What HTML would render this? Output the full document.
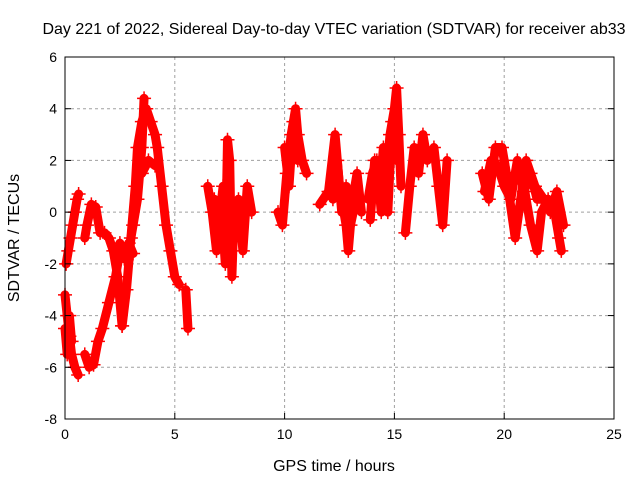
<!DOCTYPE html>
<html><head><meta charset="utf-8"><style>
body{margin:0;background:#fff}
svg text{font-family:"Liberation Sans",sans-serif;fill:#000}
</style></head><body>
<svg id="chart" width="640" height="480" viewBox="0 0 640 480" xmlns="http://www.w3.org/2000/svg">
<rect width="640" height="480" fill="#fff"/>
<text x="334" y="34" font-size="16" text-anchor="middle">Day 221 of 2022, Sidereal Day-to-day VTEC variation (SDTVAR) for receiver ab33</text>
<g id="grid"></g><g id="marks"></g><g id="axes"></g>
<text x="334" y="471" font-size="16" text-anchor="middle">GPS time / hours</text>
<text transform="translate(19,238) rotate(-90)" font-size="16" text-anchor="middle">SDTVAR / TECUs</text>
</svg>
<script>
const xTicks=[0,5,10,15,20,25];
const yTicks=[-8,-6,-4,-2,0,2,4,6];
const trackTimes=[
[0,0.1,0.2,0.3,0.45,0.6],
[0.05,0.15,0.25,0.35,0.45,0.55,0.62],
[0.9,1.1,1.3,1.5,1.7,2.0,2.3,2.5,2.7,2.9,3.1,3.3,3.5,3.6],
[0.9,1.0,1.2,1.4,1.6,1.8,2.0,2.2,2.4,2.6],
[2.6,2.8,3.0,3.2,3.3,3.5,3.7,3.9,4.1,4.2,4.4,4.6,4.8,5.0,5.2],
[3.5,3.8,4.1],
[5.5,5.6],
[6.5,6.7,6.9,7.1,7.3,7.4,7.5,7.6,7.7,7.9,8.1,8.3,8.5],
[9.7,9.9,10.1,10.3,10.5,10.6,10.8,11.0],
[11.6,12.0,12.3,12.5,12.8,12.9,13.1,13.3,13.5],
[13.8,14.0,14.2,14.4,14.6,14.8,15.0,15.1,15.2,15.3],
[15.5,15.7,15.9,16.1,16.3,16.5],
[16.8,17.0,17.2,17.4],
[19.0,19.3,19.6,19.9,20.2,20.5,20.8,21.0,21.2,21.5,21.7,22.0,22.3,22.5,22.6],
[20.0,20.5,21.0,21.4,21.8,22.2,22.6],
[13.9,14.1,14.3,14.5,14.7,14.9,15.1],
[19.1,19.4,19.7,20.0,20.3,20.6,20.9,21.2,21.5,21.8,22.1,22.4,22.7],
[12.2,12.4,12.6,12.8,13.0,13.2],
[10.0,10.2,10.4,10.6],
[6.8,7.0,7.2,7.6,7.8,8.0],
[0.0,0.1,0.2,0.3],
[2.5,2.7,2.9,3.1]
];
const trackValues=[
[-3.2,-4,-4.8,-5.5,-6,-6.3],
[-2,-1.5,-1,-0.5,0,0.5,0.7],
[-5.5,-6,-5.9,-5,-4.5,-3.5,-2.5,-1.5,-1.5,-1.5,-0.5,0.5,2.5,4.4],
[-1,-0.5,0.3,0.2,-0.8,-0.8,-1,-1.5,-2.5,-4.4],
[-4.4,-3,-1,1,2.5,3.5,4,3.5,3,2.5,1,-0.5,-1.5,-2.5,-2.8],
[1.5,2,1.8],
[-3,-4.5],
[1,0,-1.5,0.5,-2,2.8,2,-2.5,0,0.5,-1.5,1,0],
[0,-0.5,1.5,3,4,3,2,1.5],
[0.3,0.8,3,1,-0.5,-1.5,0.5,1.5,0],
[0.5,1.5,2,0,1,3,4,4.8,3,1],
[-0.8,1,2.5,1.5,3,2],
[2.5,1,-0.5,2],
[1.5,0.5,2.5,2.5,1,1.5,1.5,0.5,-0.5,-1.5,0,0.5,0,-1,-1.5],
[2,-1,2,1,0.5,0.3,-0.5],
[-0.3,2,0.5,2.5,0,3.5,2],
[0.8,2,1.8,1,0.5,2,0.8,1.5,0.5,0.5,0,0.8,-0.5],
[0.5,2,0,1,-0.5,0.3],
[2.5,1,3.5,2],
[0.5,-0.5,1,-0.5,0,-1],
[-4.5,-5.5,-4,-5],
[-1.2,-1.8,-1.2,-1.6]
];
const L=65,R=614,T=57,B=419;
const xs=t=>L+(t-0)/25*(R-L);
const ys=v=>B-(v+8)/14*(B-T);
const NS="http://www.w3.org/2000/svg";
const grid=document.getElementById('grid'),axes=document.getElementById('axes'),marks=document.getElementById('marks');
function mk(tag,a,p){const e=document.createElementNS(NS,tag);for(const k in a)e.setAttribute(k,a[k]);p.appendChild(e);return e;}
xTicks.forEach(t=>{const x=xs(t);
 if(t>0&&t<25){const g=mk('line',{x1:x,x2:x,y1:T,y2:B,stroke:'#a0a0a0','stroke-dasharray':'3,3'},grid);
 
 }
 mk('line',{x1:x,x2:x,y1:B,y2:B-6,stroke:'#000'},axes);
 const tx=mk('text',{x:x,y:B+20,'font-size':14,'text-anchor':'middle'},axes);tx.textContent=t;
 
 
});
yTicks.forEach(v=>{const y=ys(v);
 if(v>-8&&v<6){const g=mk('line',{x1:L,x2:R,y1:y,y2:y,stroke:'#a0a0a0','stroke-dasharray':'3,3'},grid);
 
 }
 mk('line',{x1:L,x2:L+6,y1:y,y2:y,stroke:'#000'},axes);
 mk('line',{x1:R,x2:R-6,y1:y,y2:y,stroke:'#000'},axes);
 const tx=mk('text',{x:L-8,y:y+5,'font-size':14,'text-anchor':'end'},axes);tx.textContent=v;
 
 
});
const fr=mk('rect',{x:L,y:T,width:R-L,height:B-T,fill:'none',stroke:'#000'},axes);


trackTimes.forEach((ts,i)=>{
 const vs=trackValues[i];
 const pts=ts.map((t,j)=>xs(t)+','+ys(vs[j])).join(' ');
 const pl=mk('polyline',{points:pts,fill:'none',stroke:'#ff0000','stroke-width':9,'stroke-linejoin':'round','stroke-linecap':'round'},marks);
 
 
 ts.forEach((t,j)=>{const x=xs(t),y=ys(vs[j]);
  const p=mk('path',{d:`M${x-7},${y}h14M${x},${y-7}v14`,stroke:'#ff0000','stroke-width':1.5},marks);
  
  
 });
});
</script>
</body></html>
